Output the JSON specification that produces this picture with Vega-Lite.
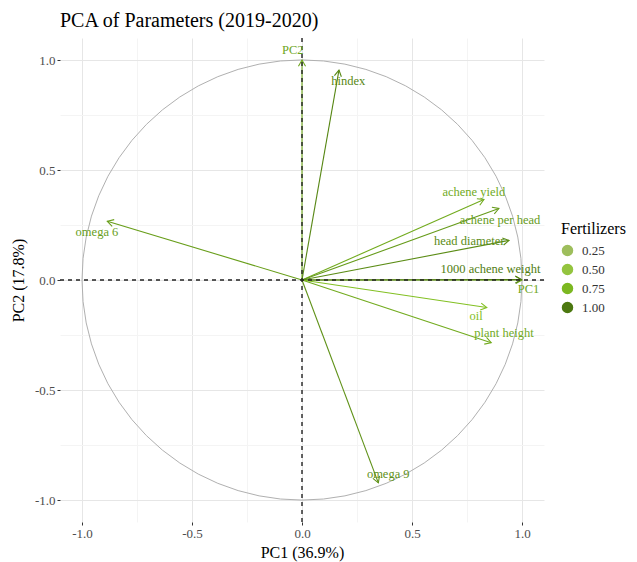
{
  "$schema": "https://vega.github.io/schema/vega-lite/v6.json",
  "width": 484,
  "height": 484,
  "padding": {"left": 10, "top": 11, "right": 5, "bottom": 5},
  "background": "white",
  "title": {"text": "PCA of Parameters (2019-2020)", "anchor": "start", "frame": "group", "font": "Liberation Serif", "fontSize": 20, "fontWeight": "normal", "color": "black", "offset": 6},
  "datasets": {
    "origin": [{"x": 0, "y": 0}],
    "vars": [
      {"name": "PC2", "PC1": 0.0, "PC2": 1.0, "lx": -0.042, "ly": 1.045, "value": 0.82},
      {"name": "PC1", "PC1": 1.0, "PC2": 0.0, "lx": 1.03, "ly": -0.04, "value": 0.82},
      {"name": "hindex", "PC1": 0.168, "PC2": 0.954, "lx": 0.21, "ly": 0.904, "value": 0.94},
      {"name": "achene yield", "PC1": 0.827, "PC2": 0.366, "lx": 0.781, "ly": 0.402, "value": 0.8},
      {"name": "achene per head", "PC1": 0.895, "PC2": 0.325, "lx": 0.9, "ly": 0.275, "value": 0.86},
      {"name": "head diameter", "PC1": 0.941, "PC2": 0.18, "lx": 0.76, "ly": 0.176, "value": 0.92},
      {"name": "1000 achene weight", "PC1": 0.997, "PC2": 0.002, "lx": 0.857, "ly": 0.048, "value": 0.98},
      {"name": "oil", "PC1": 0.84, "PC2": -0.125, "lx": 0.791, "ly": -0.165, "value": 0.72},
      {"name": "plant height", "PC1": 0.86, "PC2": -0.285, "lx": 0.918, "ly": -0.24, "value": 0.8},
      {"name": "omega 9", "PC1": 0.347, "PC2": -0.922, "lx": 0.392, "ly": -0.884, "value": 0.9},
      {"name": "omega 6", "PC1": -0.885, "PC2": 0.267, "lx": -0.932, "ly": 0.219, "value": 0.85}
    ]
  },
  "layer": [
    {
      "data": {"name": "origin"},
      "mark": {"type": "point", "shape": "circle", "filled": false, "opacity": 1, "size": {"expr": "pow(width / 1.1, 2)"}, "color": "#b0b0b0", "strokeWidth": 1},
      "encoding": {
        "x": {
          "field": "x", "type": "quantitative",
          "scale": {"domain": [-1.1, 1.1], "nice": false, "zero": false},
          "axis": {
            "title": "PC1 (36.9%)",
            "values": [-1, -0.75, -0.5, -0.25, 0, 0.25, 0.5, 0.75, 1],
            "labelExpr": "abs(datum.value * 2 - round(datum.value * 2)) < 0.01 ? (datum.value < 0 ? '-' : '') + format(abs(datum.value), '.1f') : ''",
            "tickOpacity": {"condition": {"test": "abs(datum.value * 2 - round(datum.value * 2)) > 0.01", "value": 0}, "value": 1},
            "gridColor": {"condition": {"test": "abs(datum.value * 2 - round(datum.value * 2)) > 0.01", "value": "#f4f4f4"}, "value": "#e6e6e6"}
          }
        },
        "y": {
          "field": "y", "type": "quantitative",
          "scale": {"domain": [-1.1, 1.1], "nice": false, "zero": false},
          "axis": {
            "title": "PC2 (17.8%)",
            "titlePadding": 8,
            "values": [-1, -0.75, -0.5, -0.25, 0, 0.25, 0.5, 0.75, 1],
            "labelExpr": "abs(datum.value * 2 - round(datum.value * 2)) < 0.01 ? (datum.value < 0 ? '-' : '') + format(abs(datum.value), '.1f') : ''",
            "tickOpacity": {"condition": {"test": "abs(datum.value * 2 - round(datum.value * 2)) > 0.01", "value": 0}, "value": 1},
            "gridColor": {"condition": {"test": "abs(datum.value * 2 - round(datum.value * 2)) > 0.01", "value": "#f4f4f4"}, "value": "#e6e6e6"}
          }
        }
      }
    },
    {
      "data": {"name": "vars"},
      "mark": {"type": "rule", "strokeWidth": 1.1},
      "encoding": {
        "x": {"field": "PC1", "type": "quantitative"},
        "y": {"field": "PC2", "type": "quantitative"},
        "x2": {"datum": 0},
        "y2": {"datum": 0},
        "color": {
          "field": "value", "type": "quantitative",
          "scale": {"domain": [0.01, 0.3, 0.68, 1.0], "range": ["#abc47d", "#9bbd55", "#8bcb26", "#4c7810"]},
          "legend": {
            "type": "gradient",
            "title": "Fertilizers",
            "values": [0.25, 0.5, 0.75, 1.0],
            "format": ".2f",
            "orient": "none",
            "legendX": 501,
            "legendY": 183,
            "gradientLength": 95,
            "gradientThickness": 20,
            "titlePadding": 7,
            "labelOffset": 8,
            "titleFont": "Liberation Serif",
            "titleFontSize": 16,
            "titleFontWeight": "normal",
            "titleColor": "black",
            "labelFont": "Liberation Serif",
            "labelFontSize": 13,
            "labelColor": "#333333"
          }
        }
      }
    },
    {
      "data": {"name": "vars"},
      "mark": {"type": "point", "shape": "M-0.5,0.87L0,0L0.5,0.87", "filled": false, "opacity": 1, "size": 200, "strokeWidth": 1.1, "angle": {"expr": "atan2(datum.PC1, datum.PC2) * 180 / PI"}},
      "encoding": {
        "x": {"field": "PC1", "type": "quantitative"},
        "y": {"field": "PC2", "type": "quantitative"},
        "color": {"field": "value", "type": "quantitative", "legend": null}
      }
    },
    {
      "data": {"name": "origin"},
      "mark": {"type": "rule", "color": "#222222", "strokeDash": [4, 4], "strokeWidth": 1.4},
      "encoding": {"x": {"field": "x", "type": "quantitative"}}
    },
    {
      "data": {"name": "origin"},
      "mark": {"type": "rule", "color": "#222222", "strokeDash": [4, 4], "strokeWidth": 1.4},
      "encoding": {"y": {"field": "y", "type": "quantitative"}}
    },
    {
      "data": {"name": "vars"},
      "mark": {"type": "text", "font": "Liberation Serif", "fontSize": 12.5},
      "encoding": {
        "x": {"field": "lx", "type": "quantitative"},
        "y": {"field": "ly", "type": "quantitative"},
        "text": {"field": "name"},
        "color": {"field": "value", "type": "quantitative", "legend": null}
      }
    }
  ],
  "config": {
    "view": {"stroke": null},
    "font": "Liberation Serif",
    "axis": {
      "labelFont": "Liberation Serif",
      "labelFontSize": 13,
      "labelColor": "#4d4d4d",
      "titleFont": "Liberation Serif",
      "titleFontSize": 16,
      "titleFontWeight": "normal",
      "titleColor": "black",
      "domain": false,
      "tickColor": "#333333",
      "tickSize": 3,
      "labelPadding": 2,
      "gridWidth": 1
    },
    "legend": {
      "titleFont": "Liberation Serif",
      "titleFontSize": 16,
      "titleFontWeight": "normal",
      "titleColor": "black",
      "labelFont": "Liberation Serif",
      "labelFontSize": 13,
      "labelColor": "#333333",
      "gradientStrokeWidth": 0,
      "padding": 0
    }
  }
}
